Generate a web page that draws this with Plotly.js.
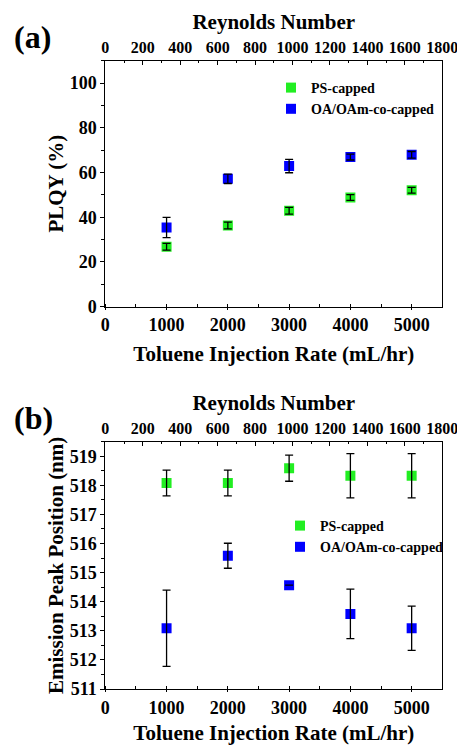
<!DOCTYPE html>
<html><head><meta charset="utf-8">
<script src="https://cdn.plot.ly/plotly-3.0.1.min.js"></script>
<style>html,body{margin:0;padding:0;background:#fff}#chart{width:457px;height:745px}</style>
</head><body><div id="chart"></div>
<script>
// Data
var rate = [1000, 2000, 3000, 4000, 5000];
var plqyPS = [26.8, 36.3, 42.9, 48.8, 52.1];
var plqyPSErr = [1.5, 1.5, 1.5, 1.3, 1.3];
var plqyOA = [35.4, 57.2, 62.9, 66.9, 67.9];
var plqyOAErr = [4.5, 2.1, 3.0, 1.3, 1.5];
var peakPS = [518.08, 518.08, 518.59, 518.33, 518.33];
var peakPSErr = [0.44, 0.44, 0.45, 0.76, 0.76];
var peakOA = [513.09, 515.58, 514.57, 513.58, 513.09];
var peakOAErr = [1.31, 0.43, 0, 0.85, 0.76];
var seriesNames = ['PS-capped', 'OA/OAm-co-capped'];
var xTicks = [0, 1000, 2000, 3000, 4000, 5000];
var reTicks = [0, 200, 400, 600, 800, 1000, 1200, 1400, 1600, 1800];

var GREEN = '#22ee22', BLUE = '#0000ff';
var F = 'Liberation Serif, Times New Roman, serif';

function markers(y, color, name, xa, ya, leg) {
  return {x: rate, y: y, type: 'scatter', mode: 'markers', name: name,
    xaxis: xa, yaxis: ya, legend: leg,
    marker: {symbol: 'square', size: 10, color: color, line: {width: 0}}};
}
function errs(y, e, xa, ya) {
  return {x: rate, y: y, type: 'scatter', mode: 'markers', showlegend: false, hoverinfo: 'skip',
    xaxis: xa, yaxis: ya, marker: {size: 1, opacity: 0},
    error_y: {type: 'data', array: e, visible: true, color: '#000', thickness: 1.3, width: 4}};
}
// invisible carrier so the top (Reynolds) axis is drawn
function topCarrier(xa, ya) {
  return {x: [reTicks[0], reTicks[reTicks.length - 1]], y: [null, null], type: 'scatter', mode: 'markers',
    showlegend: false, hoverinfo: 'skip', xaxis: xa, yaxis: ya, marker: {opacity: 0}};
}

var data = [
  topCarrier('x2', 'y'),
  markers(plqyPS, GREEN, seriesNames[0], 'x', 'y', 'legend'),
  markers(plqyOA, BLUE, seriesNames[1], 'x', 'y', 'legend'),
  errs(plqyPS, plqyPSErr, 'x', 'y'),
  errs(plqyOA, plqyOAErr, 'x', 'y'),
  topCarrier('x4', 'y3'),
  markers(peakPS, GREEN, seriesNames[0], 'x3', 'y3', 'legend2'),
  markers(peakOA, BLUE, seriesNames[1], 'x3', 'y3', 'legend2'),
  errs(peakPS, peakPSErr, 'x3', 'y3'),
  errs(peakOA, peakOAErr, 'x3', 'y3')
];

var xd = [105.3/457, 442.3/457];
var ydA = [1-306.7/745, 1-60.7/745];
var ydB = [1-689/745, 1-441.7/745];

function bottomAxis(anchor) {
  return {
    domain: xd, anchor: anchor, range: [0, 5500], tickvals: xTicks,
    showline: true, linecolor: '#000', linewidth: 1, ticks: 'outside', ticklen: 2, tickcolor: '#000',
    minor: {dtick: 500, ticks: 'inside', ticklen: 3, tickcolor: '#000'},
    showgrid: false, zeroline: false,
    tickfont: {family: F, size: 18, color: '#000', weight: 'bold'},
    title: {text: 'Toluene Injection Rate (mL/hr)', font: {family: F, size: 21, color: '#000', weight: 'bold'}, standoff: 12}
  };
}
function topAxis(over, anchor) {
  return {
    domain: xd, overlaying: over, anchor: anchor, side: 'top', range: [0, 1800], tickvals: reTicks,
    ticklabeloverflow: 'allow',
    showline: true, linecolor: '#000', linewidth: 1, ticks: 'inside', ticklen: 4, tickcolor: '#000',
    minor: {dtick: 100, ticks: 'inside', ticklen: 2, tickcolor: '#000'},
    showgrid: false, zeroline: false,
    tickfont: {family: F, size: 16, color: '#000', weight: 'bold'},
    title: {text: 'Reynolds Number', font: {family: F, size: 21, color: '#000', weight: 'bold'}, standoff: 3}
  };
}
function leftAxis(domain, anchor, range, dtick, mdtick, title) {
  return {
    domain: domain, anchor: anchor, range: range, dtick: dtick,
    showline: true, linecolor: '#000', linewidth: 1, mirror: true, ticks: 'outside', ticklen: 4, tickcolor: '#000',
    minor: {dtick: mdtick, ticks: 'outside', ticklen: 3, tickcolor: '#000'},
    showgrid: false, zeroline: false,
    tickfont: {family: F, size: 18, color: '#000', weight: 'bold'},
    title: {text: title, font: {family: F, size: 21, color: '#000', weight: 'bold'}, standoff: 0}
  };
}

var layout = {
  width: 457, height: 745, margin: {l: 0, r: 0, t: 0, b: 0},
  paper_bgcolor: '#fff', plot_bgcolor: '#fff', showlegend: true,
  xaxis: bottomAxis('y'),
  xaxis2: topAxis('x', 'y'),
  yaxis: leftAxis(ydA, 'x', [0, 110], 20, 10, 'PLQY (%)'),
  xaxis3: bottomAxis('y3'),
  xaxis4: topAxis('x3', 'y3'),
  yaxis3: leftAxis(ydB, 'x3', [511, 519.5], 1, 0.5, 'Emission Peak Position (nm)'),
  legend: {x: 271/457, y: 1-72/745, xanchor: 'left', yanchor: 'top', bgcolor: 'rgba(0,0,0,0)',
    font: {family: F, size: 14, color: '#000', weight: 'bold'}, tracegroupgap: 0, itemwidth: 30},
  legend2: {x: 280/457, y: 1-510/745, xanchor: 'left', yanchor: 'top', bgcolor: 'rgba(0,0,0,0)',
    font: {family: F, size: 14, color: '#000', weight: 'bold'}, tracegroupgap: 0, itemwidth: 30},
  annotations: [
    {text: '(a)', x: 12/457, y: 1-36.7/745, xref: 'paper', yref: 'paper', xanchor: 'left', yanchor: 'middle', showarrow: false,
     font: {family: F, size: 32, color: '#000', weight: 'bold'}},
    {text: '(b)', x: 12/457, y: 1-418/745, xref: 'paper', yref: 'paper', xanchor: 'left', yanchor: 'middle', showarrow: false,
     font: {family: F, size: 32, color: '#000', weight: 'bold'}}
  ]
};

Plotly.newPlot('chart', data, layout, {displayModeBar: false, staticPlot: true});
</script>
</body></html>
